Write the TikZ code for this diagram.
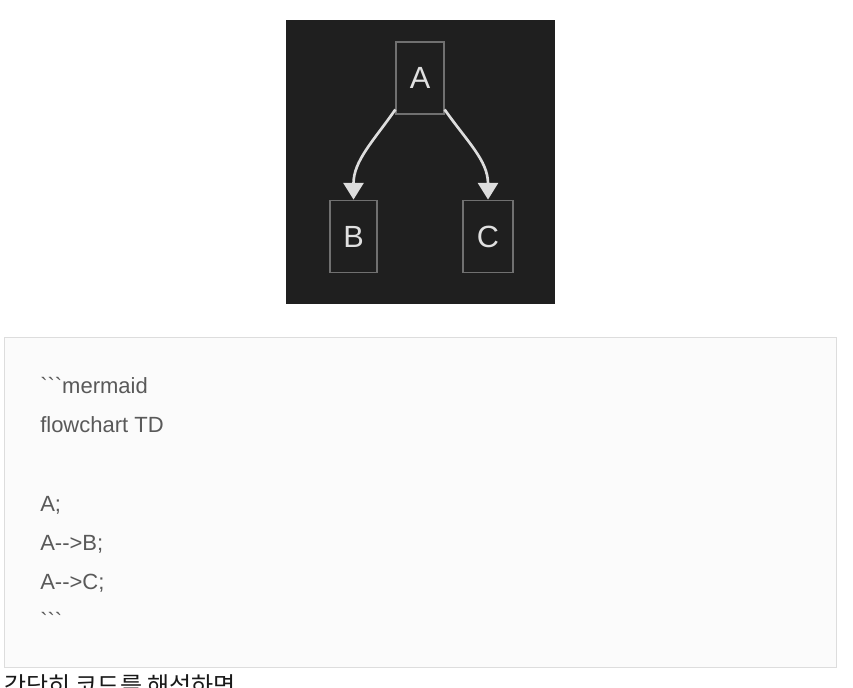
\documentclass[tikz,border=0pt]{standalone}
\usepackage{fontspec}
\setmainfont{Liberation Sans}
\newfontfamily\krfont{Noto Sans CJK KR}
\usetikzlibrary{arrows.meta}
\definecolor{darkbg}{HTML}{1F1F1F}
\definecolor{boxline}{HTML}{707070}
\definecolor{nodetext}{HTML}{E0E0E0}
\definecolor{edgecol}{HTML}{DDDDDD}
\definecolor{codebg}{HTML}{FBFBFB}
\definecolor{codeborder}{HTML}{DDDDDD}
\definecolor{codetext}{HTML}{595959}
\begin{document}
\begin{tikzpicture}[x=0.75pt,y=-0.75pt,
    flownode/.style={draw=boxline,line width=1.4pt,minimum width=35.5pt,minimum height=54pt,
        inner sep=0pt,text=nodetext,font=\fontsize{23}{27}\selectfont},
    flowedge/.style={draw=edgecol,line width=2pt,-{Triangle[width=15pt,length=12.5pt,fill=edgecol]}},
    codeline/.style={anchor=base west,inner sep=0pt,text=codetext,font=\fontsize{16.5}{20}\selectfont}]
    \clip (0,0) rectangle (853,687);
    \fill[white] (0,0) rectangle (853,687);
    % mermaid output
    \fill[darkbg] (286,20) rectangle (555,304);
    \node[flownode] (A) at (420,78) {A};
    \node[flownode] (B) at (353.5,236.5) {B};
    \node[flownode,minimum width=37.5pt] (C) at (488,236.5) {C};
    \draw[flowedge] (A.-128) to[out=-125,in=90] (B.north);
    \draw[flowedge] (A.-52) to[out=-55,in=90] (C.north);
    % code block
    \draw[draw=codeborder,fill=codebg,line width=0.75pt] (4.5,337.5) rectangle (836.5,667.5);
    \node[codeline] (l1) at (40,393) {\textasciigrave\textasciigrave\textasciigrave mermaid};
    \node[codeline] (l2) at (40,432) {flowchart TD};
    \node[codeline] (l3) at (40,511) {A;};
    \node[codeline] (l4) at (40,550) {A-{}->B;};
    \node[codeline] (l5) at (40,589) {A-{}->C;};
    \node[codeline] (l6) at (40,628) {\textasciigrave\textasciigrave\textasciigrave};
    % text below, cut off by the page edge
    \node[anchor=base west,inner sep=0pt,font=\krfont\fontsize{18}{22}\selectfont,text=black!90] (kr) at (4,694) {간단히 코드를 해석하면};
\end{tikzpicture}
\end{document}
